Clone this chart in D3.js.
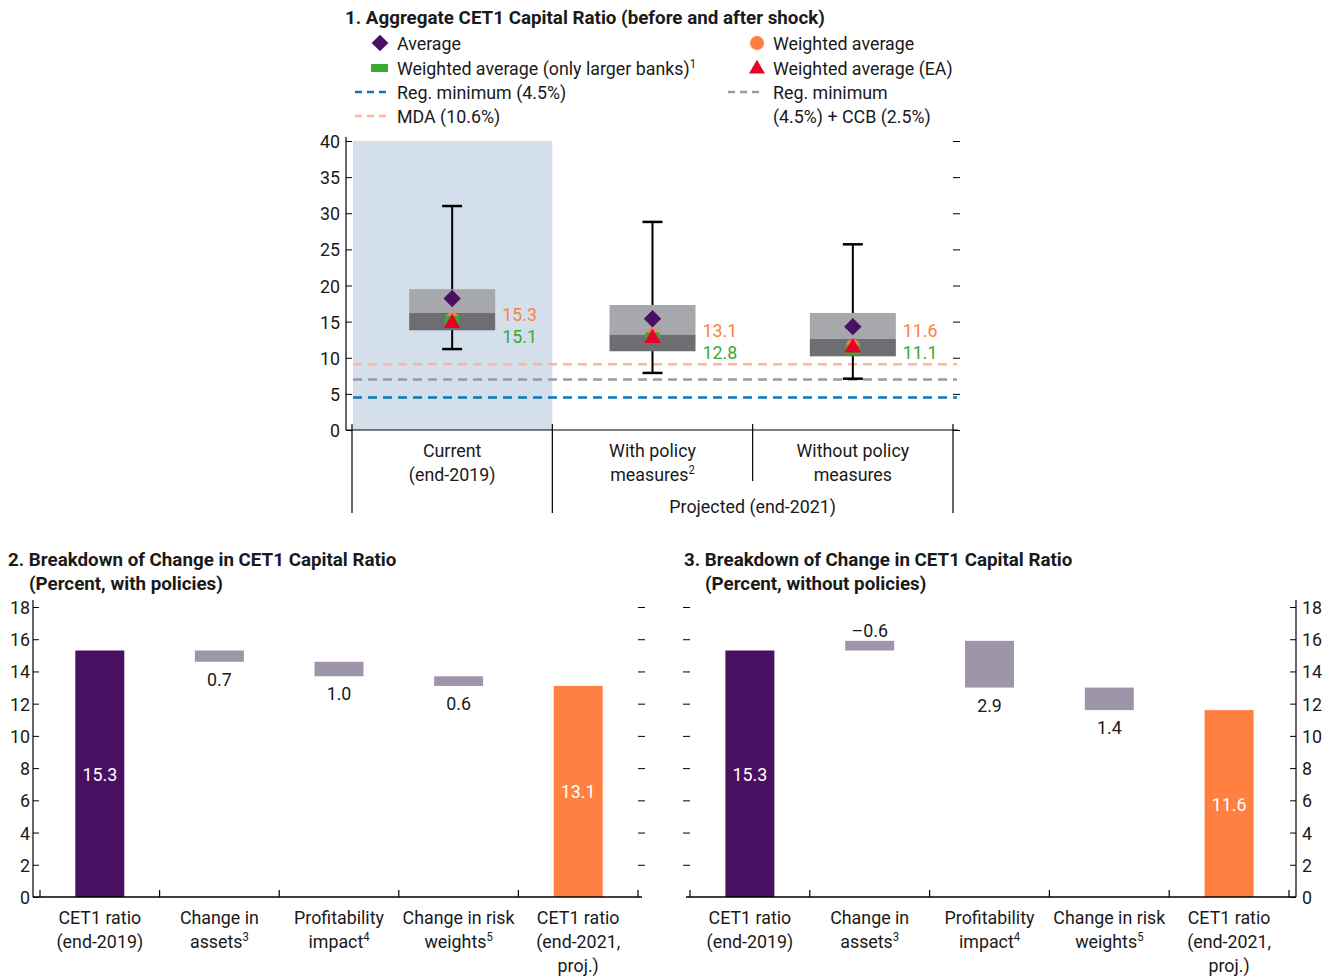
<!DOCTYPE html>
<html><head><meta charset="utf-8">
<script src="https://cdn.jsdelivr.net/npm/d3@7"></script>
<style>
body{margin:0;background:#fff}
text{font-family:Roboto,"Liberation Sans",sans-serif;fill:#1a1a1a;font-size:19px}
</style></head><body><svg id="c" width="1330" height="977"></svg>
<script>
// ---------- Panel 1 data ----------
const boxCats = ["Current", "With policy", "Without policy"];
const boxCatLabels = [["Current", "(end-2019)"], ["With policy", "measures|2"], ["Without policy", "measures"]];
const whiskerLow = [11.2, 7.9, 7.1];
const whiskerHigh = [31.0, 28.8, 25.7];
const boxLow = [13.8, 10.9, 10.2];
const boxMid = [16.2, 13.2, 12.6];
const boxHigh = [19.5, 17.3, 16.2];
const avgVals = [18.2, 15.4, 14.3];
const wavgVals = [15.3, 13.1, 11.6];
const wavgLargeVals = [15.1, 12.8, 11.1];
const wavgEAVals = [14.8, 12.7, 11.4];
const refLines = [9.1, 7.0, 4.5]; // MDA, reg min + CCB, reg min
const y1Ticks = [0, 5, 10, 15, 20, 25, 30, 35, 40];

// ---------- Panels 2 & 3 data ----------
const wfCatLabels = [["CET1 ratio", "(end-2019)"], ["Change in", "assets|3"], ["Profitability", "impact|4"], ["Change in risk", "weights|5"], ["CET1 ratio", "(end-2021,", "proj.)"]];
const withStart = 15.3;
const withChanges = [-0.7, -0.9, -0.6];
const withChangeLabels = ["0.7", "1.0", "0.6"];
const withEnd = 13.1;
const withoutStart = 15.3;
const withoutChanges = [0.6, -2.9, -1.4];
const withoutChangeLabels = ["\u20130.6", "2.9", "1.4"];
const withoutEnd = 11.6;
const y2Ticks = [0, 2, 4, 6, 8, 10, 12, 14, 16, 18];

const C = {purple: "#4a1162", orange: "#ff8040", green: "#3aaa35", red: "#e8002a",
  boxLight: "#a7a8ab", boxDark: "#6d6e71", shade: "#d3e0ec", change: "#9e95ab",
  blue: "#0a78bf", grayDash: "#9e95ab", salmon: "#ffb59c"};

const svg = d3.select("#c");

function multiLine(sel, lines, x, y0, lh, anchor) {
  lines.forEach((ln, i) => {
    const t = sel.append("text").attr("x", x).attr("y", y0 + i * lh).attr("text-anchor", anchor || "middle");
    const parts = ln.split("|");
    t.append("tspan").text(parts[0]);
    if (parts[1]) t.append("tspan").attr("dy", -7).style("font-size", "12px").text(parts[1]);
  });
}

// ================= PANEL 1 =================
const x1 = d3.scaleBand().domain(boxCats).range([352, 953]);
const y1 = d3.scaleLinear().domain([0, 40]).range([430, 141]);
const g1 = svg.append("g");

g1.append("text").attr("x", 345).attr("y", 24).attr("class", "bold").style("font-weight", "bold")
  .text("1. Aggregate CET1 Capital Ratio (before and after shock)");

// legend
const lg = g1.append("g");
const legRows = [43, 68, 92, 116];
lg.append("path").attr("d", d3.symbol(d3.symbolSquare, 140)())
  .attr("transform", `translate(380,${legRows[0]}) rotate(45)`).attr("fill", C.purple);
lg.append("text").attr("x", 397).attr("y", legRows[0] + 7).text("Average");
lg.append("circle").attr("cx", 757).attr("cy", legRows[0]).attr("r", 7).attr("fill", C.orange);
lg.append("text").attr("x", 773).attr("y", legRows[0] + 7).text("Weighted average");
lg.append("rect").attr("x", 371).attr("y", legRows[1] - 4).attr("width", 17).attr("height", 8).attr("fill", C.green);
const t2 = lg.append("text").attr("x", 397).attr("y", legRows[1] + 7).attr("id", "refw");
t2.append("tspan").text("Weighted average (only larger banks)");
t2.append("tspan").attr("dy", -7).style("font-size", "12px").text("1");
lg.append("path").attr("d", d3.symbol(d3.symbolTriangle, 110)()).attr("transform", `translate(757,${legRows[1] + 1})`).attr("fill", C.red);
lg.append("text").attr("x", 773).attr("y", legRows[1] + 7).text("Weighted average (EA)");
lg.append("line").attr("x1", 355).attr("x2", 390).attr("y1", legRows[2]).attr("y2", legRows[2])
  .attr("stroke", C.blue).attr("stroke-width", 2.5).attr("stroke-dasharray", "7,5");
lg.append("text").attr("x", 397).attr("y", legRows[2] + 7).text("Reg. minimum (4.5%)");
lg.append("line").attr("x1", 728).attr("x2", 763).attr("y1", legRows[2]).attr("y2", legRows[2])
  .attr("stroke", C.grayDash).attr("stroke-width", 2.5).attr("stroke-dasharray", "7,5");
lg.append("text").attr("x", 773).attr("y", legRows[2] + 7).text("Reg. minimum");
lg.append("line").attr("x1", 355).attr("x2", 390).attr("y1", legRows[3]).attr("y2", legRows[3])
  .attr("stroke", C.salmon).attr("stroke-width", 2.5).attr("stroke-dasharray", "7,5");
lg.append("text").attr("x", 397).attr("y", legRows[3] + 7).text("MDA (10.6%)");
lg.append("text").attr("x", 773).attr("y", legRows[3] + 7).text("(4.5%) + CCB (2.5%)");

// shaded current
g1.append("rect").attr("x", x1(boxCats[0]) + 1).attr("y", y1(40)).attr("width", x1.bandwidth() - 1)
  .attr("height", y1(0) - y1(40)).attr("fill", C.shade);

// reference lines
const refColors = [C.salmon, C.grayDash, C.blue];
refLines.forEach((v, i) => {
  g1.append("line").attr("x1", 353).attr("x2", 957).attr("y1", y1(v)).attr("y2", y1(v))
    .attr("stroke", refColors[i]).attr("stroke-width", 2.5).attr("stroke-dasharray", "9,6");
});

// boxes
const bw = 86, capW = 20;
boxCats.forEach((c, i) => {
  const cx = x1(c) + x1.bandwidth() / 2;
  g1.append("line").attr("x1", cx).attr("x2", cx).attr("y1", y1(whiskerHigh[i])).attr("y2", y1(whiskerLow[i]))
    .attr("stroke", "#000").attr("stroke-width", 2);
  [whiskerHigh[i], whiskerLow[i]].forEach(v => g1.append("line").attr("x1", cx - capW / 2).attr("x2", cx + capW / 2)
    .attr("y1", y1(v)).attr("y2", y1(v)).attr("stroke", "#000").attr("stroke-width", 2.5));
  g1.append("rect").attr("x", cx - bw / 2).attr("width", bw).attr("y", y1(boxHigh[i])).attr("height", y1(boxMid[i]) - y1(boxHigh[i])).attr("fill", C.boxLight);
  g1.append("rect").attr("x", cx - bw / 2).attr("width", bw).attr("y", y1(boxMid[i])).attr("height", y1(boxLow[i]) - y1(boxMid[i])).attr("fill", C.boxDark);
  g1.append("path").attr("d", d3.symbol(d3.symbolSquare, 150)()).attr("transform", `translate(${cx},${y1(avgVals[i])}) rotate(45)`).attr("fill", C.purple);
  g1.append("circle").attr("cx", cx).attr("cy", y1(wavgVals[i])).attr("r", 7).attr("fill", C.orange);
  g1.append("rect").attr("x", cx - 7).attr("y", y1(wavgLargeVals[i]) - 5).attr("width", 14).attr("height", 10).attr("fill", C.green);
  g1.append("path").attr("d", d3.symbol(d3.symbolTriangle, 120)()).attr("transform", `translate(${cx},${y1(wavgEAVals[i])})`).attr("fill", C.red);
  const ly = Math.min(y1((boxHigh[i] + boxLow[i]) / 2) + 4, 330);
  g1.append("text").attr("x", cx + bw / 2 + 7).attr("y", ly + 7).style("fill", C.orange).text(wavgVals[i].toFixed(1));
  g1.append("text").attr("x", cx + bw / 2 + 7).attr("y", ly + 29).style("fill", C.green).text(wavgLargeVals[i].toFixed(1));
});

// axes
const ax1 = g1.append("g").attr("transform", "translate(346,0)")
  .call(d3.axisRight(y1).tickValues(y1Ticks).tickSize(6).tickFormat(""));
ax1.select(".domain").attr("d", `M0,${y1(0)}V${y1(40) - 4}`).attr("stroke", "#000").attr("stroke-width", 1.2);
ax1.selectAll(".tick line").attr("stroke", "#000");
y1Ticks.forEach(v => g1.append("text").attr("x", 340).attr("y", y1(v) + 7).attr("text-anchor", "end").text(v));
const axr1 = g1.append("g").attr("transform", "translate(953,0)")
  .call(d3.axisRight(y1).tickValues(y1Ticks).tickSize(7).tickFormat(""));
axr1.select(".domain").remove();
axr1.selectAll(".tick line").attr("stroke", "#000");
g1.append("line").attr("x1", 346).attr("x2", 958).attr("y1", y1(0)).attr("y2", y1(0)).attr("stroke", "#000").attr("stroke-width", 1.2);
const divX = boxCats.map(c => x1(c)).concat([x1.range()[1]]);
divX.forEach((x, i) => {
  g1.append("line").attr("x1", x).attr("x2", x).attr("y1", y1(0) - 6).attr("y2", i === 2 ? 481 : 513)
    .attr("stroke", "#000").attr("stroke-width", 1.2);
});
boxCats.forEach((c, i) => multiLine(g1, boxCatLabels[i], x1(c) + x1.bandwidth() / 2, 457, 24));
g1.append("text").attr("x", x1(boxCats[2])).attr("y", 513).attr("text-anchor", "middle").text("Projected (end-2021)");

// ================= PANELS 2 & 3 =================
function waterfall(opts) {
  const g = svg.append("g");
  const cats = wfCatLabels.map((d, i) => "c" + i);
  const x = d3.scaleBand().domain(cats).range(opts.range);
  const y = d3.scaleLinear().domain([0, 18]).range([897, 607]);
  const barW = 49;
  const cx = i => x(cats[i]) + x.bandwidth() / 2;

  g.append("text").attr("x", opts.titleX).attr("y", 566).attr("class", "bold").style("font-weight", "bold").text(opts.title);
  g.append("text").attr("x", opts.titleX + 21).attr("y", 590).attr("class", "bold").style("font-weight", "bold").text(opts.subtitle);

  g.append("rect").attr("x", cx(0) - barW / 2).attr("width", barW).attr("y", y(opts.start)).attr("height", y(0) - y(opts.start)).attr("fill", C.purple);
  g.append("text").attr("x", cx(0)).attr("y", (y(0) + y(opts.start)) / 2 + 7).attr("text-anchor", "middle").style("fill", "#fff").text(opts.start.toFixed(1));
  let level = opts.start;
  opts.changes.forEach((d, k) => {
    const i = k + 1;
    const a = level, b = level + d;
    const top = Math.max(a, b), bot = Math.min(a, b);
    g.append("rect").attr("x", cx(i) - barW / 2).attr("width", barW).attr("y", y(top)).attr("height", y(bot) - y(top)).attr("fill", C.change);
    if (d < 0) g.append("text").attr("x", cx(i)).attr("y", y(bot) + 24).attr("text-anchor", "middle").text(opts.labels[k]);
    else g.append("text").attr("x", cx(i)).attr("y", y(top) - 4).attr("text-anchor", "middle").text(opts.labels[k]);
    level = b;
  });
  g.append("rect").attr("x", cx(4) - barW / 2).attr("width", barW).attr("y", y(opts.end)).attr("height", y(0) - y(opts.end)).attr("fill", C.orange);
  g.append("text").attr("x", cx(4)).attr("y", (y(0) + y(opts.end)) / 2 + 7).attr("text-anchor", "middle").style("fill", "#fff").text(opts.end.toFixed(1));

  const r0 = opts.range[0], r1 = opts.range[1];
  const axisX = opts.side === "left" ? r0 - 7 : r1 + 7;
  const otherX = opts.side === "left" ? r1 : r0;
  g.append("line").attr("x1", axisX).attr("x2", axisX).attr("y1", y(0)).attr("y2", 600).attr("stroke", "#000").attr("stroke-width", 1.2);
  const ax = g.append("g").attr("transform", `translate(${axisX},0)`)
    .call((opts.side === "left" ? d3.axisRight(y) : d3.axisLeft(y)).tickValues(y2Ticks).tickSize(6).tickFormat(""));
  ax.select(".domain").remove();
  ax.selectAll(".tick line").attr("stroke", "#000");
  y2Ticks.forEach(v => g.append("text").attr("x", opts.side === "left" ? axisX - 3 : axisX + 6).attr("y", y(v) + 7)
    .attr("text-anchor", opts.side === "left" ? "end" : "start").text(v));
  const ax2 = g.append("g").attr("transform", `translate(${otherX},0)`)
    .call((opts.side === "left" ? d3.axisRight(y) : d3.axisLeft(y)).tickValues(y2Ticks.slice(1)).tickSize(7).tickFormat(""));
  ax2.select(".domain").remove();
  ax2.selectAll(".tick line").attr("stroke", "#000");
  g.append("line").attr("x1", Math.min(axisX, r0 - 4)).attr("x2", Math.max(axisX, r1 + 4)).attr("y1", y(0)).attr("y2", y(0)).attr("stroke", "#000").attr("stroke-width", 1.5);
  cats.concat(["end"]).forEach((c, i) => {
    const xx = i < 5 ? x(c) : r1;
    g.append("line").attr("x1", xx).attr("x2", xx).attr("y1", y(0) - 7).attr("y2", y(0)).attr("stroke", "#000").attr("stroke-width", 1.2);
  });
  wfCatLabels.forEach((lines, i) => multiLine(g, lines, cx(i), 924, 24));
}

waterfall({range: [40, 638], side: "left", titleX: 8, title: "2. Breakdown of Change in CET1 Capital Ratio",
  subtitle: "(Percent, with policies)", start: withStart, changes: withChanges, labels: withChangeLabels, end: withEnd});
waterfall({range: [690, 1289], side: "right", titleX: 684, title: "3. Breakdown of Change in CET1 Capital Ratio",
  subtitle: "(Percent, without policies)", start: withoutStart, changes: withoutChanges, labels: withoutChangeLabels, end: withoutEnd});

// ---- condense text horizontally (reference uses a condensed face) ----
const boldNode = svg.select("text.bold").node();
const sBold = 480 / boldNode.getComputedTextLength();
const refNode = d3.select("#refw tspan").node();
const sNorm = 293 / refNode.getComputedTextLength();
svg.selectAll("text").each(function () {
  const t = d3.select(this);
  const x = +t.attr("x"), y = +t.attr("y");
  const s = t.classed("bold") ? sBold : sNorm;
  t.attr("x", 0).attr("y", 0).attr("transform", `translate(${x},${y}) scale(${s},1)`);
});
</script></body></html>
